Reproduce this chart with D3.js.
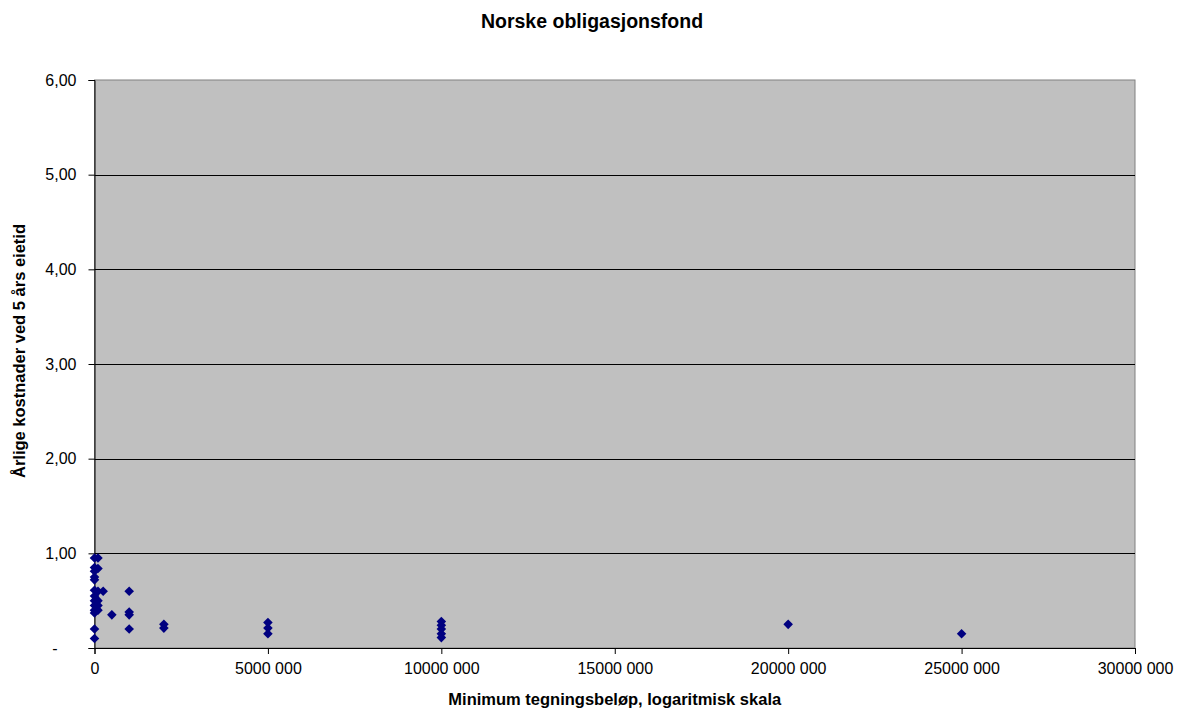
<!DOCTYPE html>
<html>
<head>
<meta charset="utf-8">
<script src="https://cdn.jsdelivr.net/npm/d3@7"></script>
<style>
  body { margin: 0; background: #fff; }
  text { font-family: "Liberation Sans", Arial, sans-serif; }
</style>
</head>
<body>
<div id="chart"></div>
<script>
// =====================
// DATA
// =====================
const minAmount = [
  0, 0, 0, 0, 0, 0, 0, 0, 0, 0, 0, 0, 0,
  100000, 100000, 100000, 100000, 100000, 100000,
  250000,
  500000,
  1000000, 1000000, 1000000, 1000000,
  2000000, 2000000,
  5000000, 5000000, 5000000,
  10000000, 10000000, 10000000, 10000000, 10000000,
  20000000,
  25000000
];
const annualCost = [
  0.95, 0.85, 0.81, 0.75, 0.72, 0.61, 0.55, 0.50, 0.45, 0.40, 0.37, 0.20, 0.10,
  0.95, 0.84, 0.60, 0.50, 0.45, 0.40,
  0.60,
  0.35,
  0.60, 0.38, 0.35, 0.20,
  0.25, 0.21,
  0.27, 0.21, 0.15,
  0.28, 0.24, 0.20, 0.15, 0.11,
  0.25,
  0.15
];
const xTicks = [0, 5000000, 10000000, 15000000, 20000000, 25000000, 30000000];
const xTickLabels = ["0", "5000 000", "10000 000", "15000 000", "20000 000", "25000 000", "30000 000"];
const yTicks = [0, 1, 2, 3, 4, 5, 6];
const yTickLabels = ["-", "1,00", "2,00", "3,00", "4,00", "5,00", "6,00"];

const points = minAmount.map((m, i) => ({ m, c: annualCost[i] }));

// =====================
// SVG SETUP
// =====================
const W = 1184, H = 713;
const margin = {top: 80, right: 49, bottom: 65, left: 94.5};
const width = W - margin.left - margin.right;
const height = H - margin.top - margin.bottom;

const root = d3.select("#chart").append("svg")
  .attr("width", W)
  .attr("height", H);

const svg = root.append("g")
  .attr("transform", `translate(${margin.left},${margin.top})`);

// =====================
// SCALES
// =====================
const x = d3.scaleLinear().domain([0, 30000000]).range([0, width]);
const y = d3.scaleLinear().domain([0, 6]).range([height, 0]);

// plot area
svg.append("rect")
  .attr("width", width)
  .attr("height", height)
  .attr("fill", "#c0c0c0")
  .attr("stroke", "#808080");

// gridlines
svg.append("g")
  .selectAll("line")
  .data(yTicks.filter(t => t > 0 && t < 6))
  .enter()
  .append("line")
  .attr("x1", 0).attr("x2", width)
  .attr("y1", d => Math.round(y(d)) + 0.5)
  .attr("y2", d => Math.round(y(d)) + 0.5)
  .attr("stroke", "#000");

// =====================
// AXES
// =====================
const xAxis = svg.append("g")
  .attr("transform", `translate(0,${height})`)
  .call(d3.axisBottom(x)
    .tickValues(xTicks)
    .tickFormat((d, i) => xTickLabels[i])
    .tickSize(6)
    .tickPadding(9));
xAxis.selectAll("text").style("font-size", "16px").attr("fill", "#000");
xAxis.selectAll("line, path").attr("stroke", "#000");

const yAxis = svg.append("g")
  .call(d3.axisLeft(y)
    .tickValues(yTicks)
    .tickFormat((d, i) => yTickLabels[i])
    .tickSize(6)
    .tickPadding(12));
yAxis.selectAll("text").style("font-size", "16px").attr("fill", "#000");
yAxis.selectAll("line, path").attr("stroke", "#000");
yAxis.selectAll(".tick text").filter(d => d === 0).attr("dx", -19);

// =====================
// POINTS
// =====================
svg.append("g")
  .selectAll("path")
  .data(points)
  .enter()
  .append("path")
  .attr("d", d3.symbol(d3.symbolSquare, 46))
  .attr("transform", d => `translate(${x(d.m)},${y(d.c)}) rotate(45)`)
  .attr("fill", "#000080");

// =====================
// LABELS
// =====================
root.append("text")
  .attr("x", 592)
  .attr("y", 28)
  .attr("text-anchor", "middle")
  .style("font-size", "19.5px")
  .style("font-weight", "bold")
  .text("Norske obligasjonsfond");

root.append("text")
  .attr("x", margin.left + width / 2)
  .attr("y", 705)
  .attr("text-anchor", "middle")
  .style("font-size", "16.5px")
  .style("font-weight", "bold")
  .text("Minimum tegningsbeløp, logaritmisk skala");

root.append("text")
  .attr("transform", "rotate(-90)")
  .attr("x", -351)
  .attr("y", 25)
  .attr("text-anchor", "middle")
  .style("font-size", "16.5px")
  .style("font-weight", "bold")
  .text("Årlige kostnader ved 5 års eietid");
</script>
</body>
</html>
